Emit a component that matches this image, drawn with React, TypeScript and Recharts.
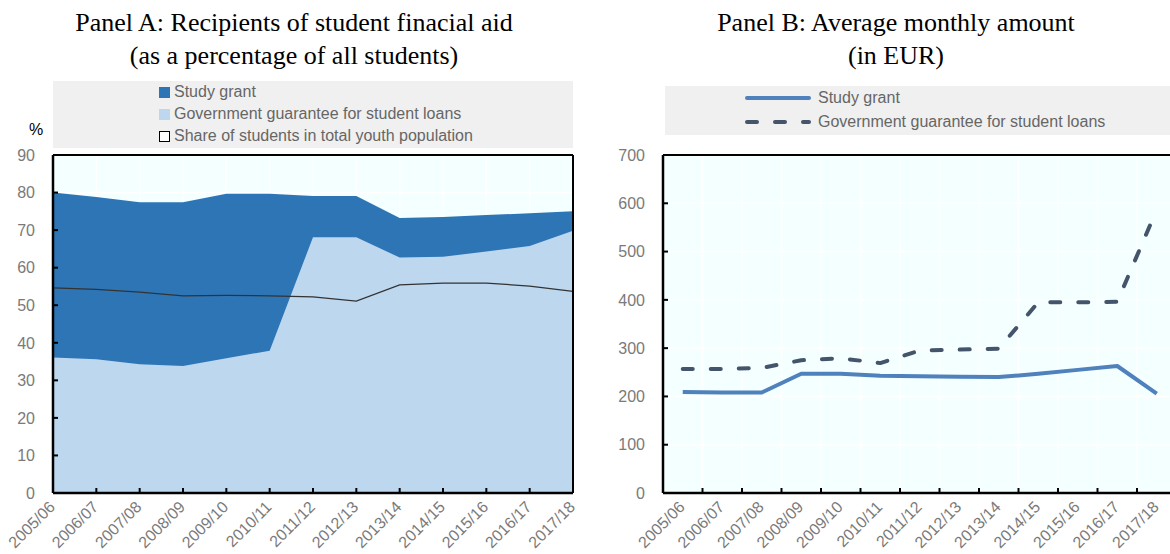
import React from 'react';
import {
  Area,
  CartesianGrid,
  ComposedChart,
  Line,
  LineChart,
  ReferenceLine,
  XAxis,
  YAxis,
} from 'recharts';

const years = [
  '2005/06', '2006/07', '2007/08', '2008/09', '2009/10', '2010/11', '2011/12',
  '2012/13', '2013/14', '2014/15', '2015/16', '2016/17', '2017/18',
];

// Panel A, % of all students
const grantShare = [80.0, 78.8, 77.4, 77.4, 79.7, 79.7, 79.1, 79.1, 73.2, 73.5, 74.0, 74.5, 75.0];
const loanShare = [36.1, 35.6, 34.3, 33.8, 35.9, 37.9, 68.1, 68.1, 62.7, 62.9, 64.3, 65.8, 69.8];
const studentShare = [54.6, 54.2, 53.5, 52.5, 52.6, 52.5, 52.2, 51.1, 55.4, 55.9, 55.9, 55.1, 53.7];

// Panel B, EUR per month
const grantAmount = [209, 208, 208, 247, 247, 243, 242, 241, 240, 247, 255, 263, 206];
const loanAmount = [257, 257, 259, 275, 279, 269, 295, 297, 299, 395, 395, 396, 587];

const shareTicks = [0, 10, 20, 30, 40, 50, 60, 70, 80, 90];
const amountTicks = [0, 100, 200, 300, 400, 500, 600, 700];

const panelA = years.map((year, i) => ({
  year,
  grant: grantShare[i],
  loan: loanShare[i],
  students: studentShare[i],
}));

const panelB = years.map((year, i) => ({
  i,
  year,
  grant: grantAmount[i],
  loan: loanAmount[i],
}));
const centers = years.map((_, i) => i);
// category boundaries, where panel B has its ticks and vertical gridlines
const edges = years.map((_, i) => i - 0.5).concat(years.length - 0.5);

const SANS = '"Liberation Sans", Arial, sans-serif';
const SERIF = '"Liberation Serif", "Times New Roman", serif';
const TICK_COLOR = '#7a7a7a';
const LEGEND_COLOR = '#666';
const PLOT_BG = '#f4ffff';
const FONT_SIZE = 16;

const SlantTick = (props: any) => {
  const { x, y, payload, labels } = props;
  const text = labels ? labels[payload.value] : payload.value;
  const ax = x + 3;
  const ay = y + 15;
  return (
    <text
      x={ax}
      y={ay}
      transform={`rotate(-45 ${ax} ${ay})`}
      textAnchor="end"
      fill={TICK_COLOR}
      fontSize={FONT_SIZE}
      fontFamily={SANS}
    >
      {text}
    </text>
  );
};

const YLabel = (props: any) => {
  const { x, y, payload } = props;
  return (
    <text x={x - 18} y={y} dy="0.36em" textAnchor="end" fill={TICK_COLOR} fontSize={FONT_SIZE} fontFamily={SANS}>
      {payload.value}
    </text>
  );
};

// short inward tick marks: a reference line cut down to 5px at the axis
const xMark = (p: any) => {
  const yb = Math.max(p.y1, p.y2);
  return <line x1={p.x1} x2={p.x1} y1={yb} y2={yb - 5} stroke="#000" strokeWidth={2} />;
};
const yMark = (p: any) => {
  const xl = Math.min(p.x1, p.x2);
  return <line x1={xl} x2={xl + 5} y1={p.y1} y2={p.y1} stroke="#000" strokeWidth={2} />;
};

const axisLine = { stroke: '#000', strokeWidth: 2.5 };

function Title({ center, lines }: { center: number; lines: string[] }) {
  return (
    <div
      style={{
        position: 'absolute',
        left: center - 300,
        top: 6,
        width: 600,
        textAlign: 'center',
        fontFamily: SERIF,
        fontSize: 26,
        lineHeight: '33px',
        color: '#000',
      }}
    >
      {lines.map((l) => (
        <div key={l}>{l}</div>
      ))}
    </div>
  );
}

function LegendA() {
  const row = (top: number, swatch: React.ReactNode, label: string) => (
    <div style={{ position: 'absolute', left: 106, top, height: 22, display: 'flex', alignItems: 'center' }}>
      {swatch}
      <span style={{ marginLeft: 4, fontFamily: SANS, fontSize: FONT_SIZE, color: LEGEND_COLOR, whiteSpace: 'nowrap' }}>
        {label}
      </span>
    </div>
  );
  const box = (bg: string, border?: string) => (
    <div
      style={{
        width: border ? 9 : 11,
        height: border ? 9 : 11,
        background: bg,
        border: border ? `1px solid ${border}` : undefined,
      }}
    />
  );
  return (
    <div style={{ position: 'absolute', left: 53, top: 81, width: 520, height: 67, background: '#f0f0f0' }}>
      {row(0, box('#2e75b6'), 'Study grant')}
      {row(22, box('#bdd7ee'), 'Government guarantee for student loans')}
      {row(44, box('#fff', '#000'), 'Share of students in total youth population')}
    </div>
  );
}

function LegendB() {
  const row = (top: number, dashed: boolean, label: string) => (
    <div style={{ position: 'absolute', left: 78, top, height: 24, display: 'flex', alignItems: 'center' }}>
      <svg width={72} height={8}>
        <line
          x1={4}
          y1={4}
          x2={66}
          y2={4}
          stroke={dashed ? '#44546a' : '#4f81bd'}
          strokeWidth={4}
          strokeLinecap="round"
          strokeDasharray={dashed ? '10 18' : undefined}
        />
      </svg>
      <span style={{ marginLeft: 3, fontFamily: SANS, fontSize: FONT_SIZE, color: LEGEND_COLOR, whiteSpace: 'nowrap' }}>
        {label}
      </span>
    </div>
  );
  return (
    <div style={{ position: 'absolute', left: 665, top: 86, width: 520, height: 49, background: '#f0f0f0' }}>
      {row(0, false, 'Study grant')}
      {row(24, true, 'Government guarantee for student loans')}
    </div>
  );
}

function PanelA() {
  return (
    <div style={{ position: 'absolute', left: 0, top: 0 }}>
      <ComposedChart width={600} height={554} data={panelA} margin={{ top: 155, right: 27, bottom: 0, left: 0 }}>
        <CartesianGrid stroke="#fff" strokeWidth={1.5} fill={PLOT_BG} />
        <XAxis
          dataKey="year"
          scale="point"
          interval={0}
          height={61}
          tickSize={0}
          tickMargin={0}
          tick={<SlantTick />}
          axisLine={axisLine}
          tickLine={false}
        />
        <YAxis
          domain={[0, 90]}
          ticks={shareTicks}
          width={53}
          tickSize={0}
          tickMargin={0}
          tick={<YLabel />}
          axisLine={axisLine}
          tickLine={false}
        />
        <Area type="linear" dataKey="grant" stroke="none" fill="#2e75b6" fillOpacity={1} isAnimationActive={false} />
        <Area type="linear" dataKey="loan" stroke="none" fill="#bdd7ee" fillOpacity={1} isAnimationActive={false} />
        <Line type="linear" dataKey="students" stroke="#333" strokeWidth={1.3} dot={false} isAnimationActive={false} />
        <ReferenceLine y={90} stroke="#000" strokeWidth={2} />
        <ReferenceLine x="2017/18" stroke="#000" strokeWidth={2} />
        {years.map((y) => (
          <ReferenceLine key={y} x={y} shape={xMark} />
        ))}
        {shareTicks.map((v) => (
          <ReferenceLine key={v} y={v} shape={yMark} />
        ))}
      </ComposedChart>
    </div>
  );
}

function PanelB() {
  const xProps = {
    dataKey: 'i',
    type: 'number' as const,
    domain: [-0.5, years.length - 0.5],
    allowDataOverflow: true,
    interval: 0 as const,
    height: 61,
    tickSize: 0,
    tickMargin: 0,
    tickLine: false,
  };
  return (
    <div style={{ position: 'absolute', left: 610, top: 0 }}>
      <LineChart width={600} height={554} data={panelB} margin={{ top: 155, right: 33.5, bottom: 0, left: 0 }}>
        <XAxis xAxisId="edges" {...xProps} ticks={edges} hide />
        <CartesianGrid xAxisId="edges" stroke="#fff" strokeWidth={1.5} fill={PLOT_BG} />
        <XAxis {...xProps} ticks={centers} tick={<SlantTick labels={years} />} axisLine={axisLine} />
        <YAxis
          domain={[0, 700]}
          ticks={amountTicks}
          width={53}
          tickSize={0}
          tickMargin={0}
          tick={<YLabel />}
          axisLine={axisLine}
          tickLine={false}
        />
        <ReferenceLine y={700} stroke="#000" strokeWidth={2} />
        <Line
          type="linear"
          dataKey="grant"
          stroke="#4f81bd"
          strokeWidth={4}
          strokeLinejoin="round"
          dot={false}
          isAnimationActive={false}
        />
        <Line
          type="linear"
          dataKey="loan"
          stroke="#44546a"
          strokeWidth={4}
          strokeDasharray="10 18"
          strokeLinecap="round"
          strokeLinejoin="round"
          dot={false}
          isAnimationActive={false}
        />
        {edges.map((e) => (
          <ReferenceLine key={e} x={e} shape={xMark} />
        ))}
        {amountTicks.map((v) => (
          <ReferenceLine key={v} y={v} shape={yMark} />
        ))}
      </LineChart>
    </div>
  );
}

export default function App() {
  return (
    <div
      style={{
        position: 'fixed',
        left: 0,
        top: 0,
        width: 1170,
        height: 554,
        overflow: 'hidden',
        background: '#fff',
      }}
    >
      <Title center={294} lines={['Panel A: Recipients of student finacial aid', '(as a percentage of all students)']} />
      <Title center={896} lines={['Panel B: Average monthly amount', '(in EUR)']} />
      <LegendA />
      <LegendB />
      <div style={{ position: 'absolute', left: 29, top: 121, fontFamily: SANS, fontSize: FONT_SIZE, color: '#000' }}>%</div>
      <PanelA />
      <PanelB />
    </div>
  );
}
